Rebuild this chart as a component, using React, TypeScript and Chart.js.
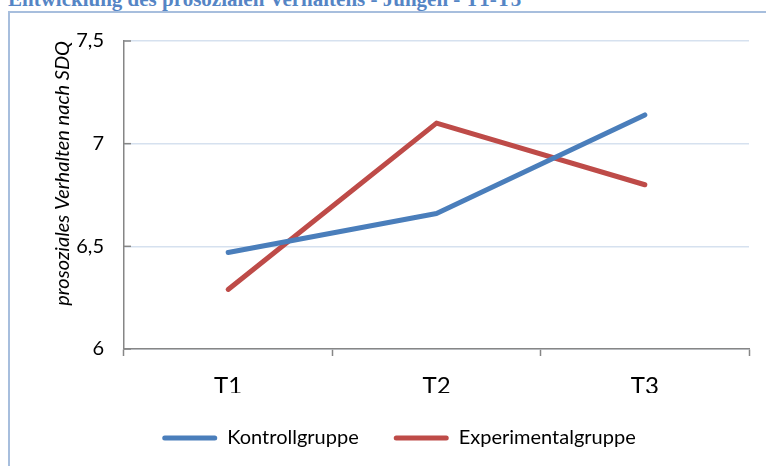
import React, { useEffect, useRef } from 'react';
import { Chart, registerables } from 'chart.js';

Chart.register(...registerables);

const chartTitle = 'Entwicklung des prosozialen Verhaltens - Jungen - T1-T3';
const yAxisTitle = 'prosoziales Verhalten nach SDQ';
const categories = ['T1', 'T2', 'T3'];
const kontrollgruppe = [6.47, 6.66, 7.14];
const experimentalgruppe = [6.29, 7.1, 6.8];
const seriesNames = ['Kontrollgruppe', 'Experimentalgruppe'];
const yMin = 6;
const yMax = 7.5;
const yStep = 0.5;

const FONT = 'Lato';
const AXIS_GRAY = '#868686';

const insideTicks = {
  id: 'insideTicks',
  beforeDatasetsDraw(chart: any) {
    const y = chart.scales.y;
    const ctx = chart.ctx;
    const left = chart.chartArea.left;
    ctx.save();
    ctx.strokeStyle = AXIS_GRAY;
    ctx.lineWidth = 1.5;
    y.ticks.forEach((t: any) => {
      const py = y.getPixelForValue(t.value);
      ctx.beginPath();
      ctx.moveTo(left, py);
      ctx.lineTo(left + 7, py);
      ctx.stroke();
    });
    ctx.restore();
  },
};

export default function App() {
  const canvasRef = useRef<HTMLCanvasElement | null>(null);

  useEffect(() => {
    if (!canvasRef.current) return;
    const chart = new Chart(canvasRef.current, {
      type: 'line',
      data: {
        labels: categories,
        datasets: [
          {
            label: seriesNames[0],
            data: kontrollgruppe,
            borderColor: '#4A7EBB',
            backgroundColor: '#4A7EBB',
            borderWidth: 5,
            pointRadius: 0,
            tension: 0,
            borderCapStyle: 'round',
            borderJoinStyle: 'round',
          },
          {
            label: seriesNames[1],
            data: experimentalgruppe,
            borderColor: '#BE4B48',
            backgroundColor: '#BE4B48',
            borderWidth: 5,
            pointRadius: 0,
            tension: 0,
            borderCapStyle: 'round',
            borderJoinStyle: 'round',
          },
        ],
      },
      options: {
        animation: false,
        responsive: false,
        maintainAspectRatio: false,
        layout: { padding: { left: 49, right: 17, top: 41, bottom: 8 } },
        plugins: {
          tooltip: { enabled: false },
          legend: {
            position: 'bottom',
            labels: {
              font: { family: FONT, size: 20 },
              color: '#000',
              boxWidth: 55,
              boxHeight: 5,
              useBorderRadius: true,
              borderRadius: 2.5,
              padding: 35,
              generateLabels: (c: any) =>
                Chart.defaults.plugins.legend.labels
                  .generateLabels(c)
                  .map((l: any) => ({ ...l, lineWidth: 0 })),
            },
          },
        },
        scales: {
          x: {
            offset: true,
            afterFit: (s: any) => {
              s.height = 44;
            },
            grid: {
              offset: true,
              drawOnChartArea: false,
              drawTicks: true,
              tickLength: 7,
              tickColor: AXIS_GRAY,
              tickWidth: 1.5,
            },
            border: { color: AXIS_GRAY, width: 1.5 },
            ticks: {
              font: { family: FONT, size: 24 },
              color: '#000',
              padding: 16,
            },
          },
          y: {
            min: yMin,
            max: yMax,
            afterFit: (s: any) => {
              s.width = 75;
            },
            grid: {
              color: '#D6E1EF',
              lineWidth: 1.5,
              drawTicks: false,
            },
            border: { color: AXIS_GRAY, width: 1.5 },
            ticks: {
              stepSize: yStep,
              font: { family: FONT, size: 20 },
              color: '#000',
              padding: 20,
              callback: (v: any) => String(v).replace('.', ','),
            },
            title: {
              display: true,
              text: yAxisTitle,
              align: 'end',
              color: '#000',
              font: { family: FONT, size: 20, style: 'italic' },
              padding: { top: 2, bottom: 0 },
            },
          },
        },
      },
      plugins: [insideTicks],
    } as any);
    return () => chart.destroy();
  }, []);

  return (
    <div
      style={{
        position: 'fixed',
        left: 0,
        top: 0,
        width: 766,
        height: 466,
        overflow: 'hidden',
        background: '#fff',
      }}
    >
      <div
        style={{
          position: 'absolute',
          left: 8,
          top: 11,
          width: 800,
          height: 500,
          border: '2px solid #A7BEDD',
          boxSizing: 'border-box',
        }}
      />
      <div
        style={{
          position: 'absolute',
          left: 8,
          top: -11,
          whiteSpace: 'nowrap',
          font: 'bold 21px "Liberation Serif"',
          lineHeight: '21px',
          color: '#5585C5',
        }}
      >
        {chartTitle}
      </div>
      <canvas
        ref={canvasRef}
        width={766}
        height={466}
        style={{ position: 'absolute', left: 0, top: 0, width: 766, height: 466 }}
      />
    </div>
  );
}
